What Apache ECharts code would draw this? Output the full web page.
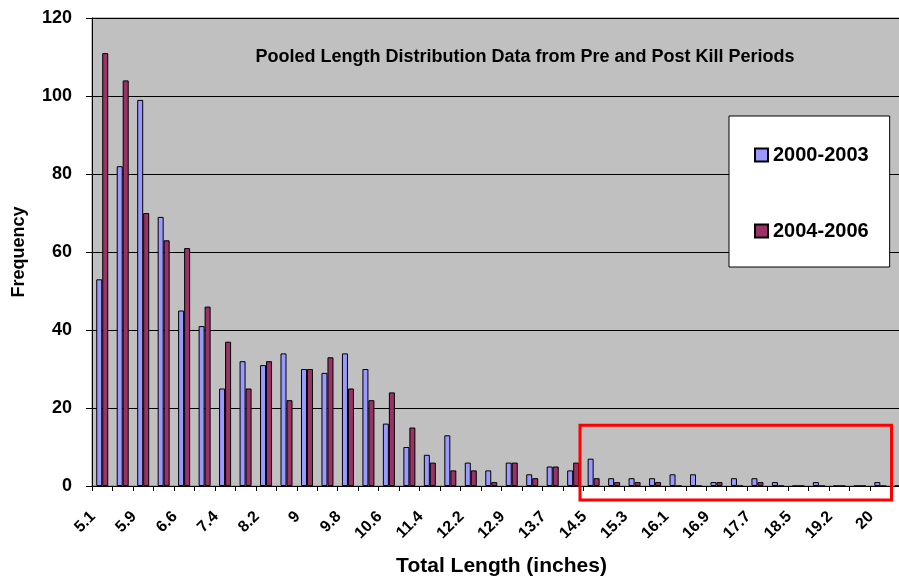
<!DOCTYPE html>
<html>
<head>
<meta charset="utf-8">
<script src="https://cdn.jsdelivr.net/npm/echarts@6/dist/echarts.min.js"></script>
<style>
  html, body { margin: 0; padding: 0; background: #fff; }
  #chart { width: 899px; height: 578px; }
</style>
</head>
<body>
<div id="chart"></div>
<script>
// Length classes (inches), one per centimetre bin from 13 to 52 cm
const lengthClasses = [
  '5.1', '5.5', '5.9', '6.2', '6.6', '7', '7.4', '7.8', '8.2', '8.6',
  '9', '9.4', '9.8', '10.2', '10.6', '11', '11.4', '11.8', '12.2', '12.5',
  '12.9', '13.3', '13.7', '14.1', '14.5', '14.9', '15.3', '15.7', '16.1', '16.5',
  '16.9', '17.3', '17.7', '18.1', '18.5', '18.8', '19.2', '19.6', '20', '20.4'
];

// Frequency of fish per length class, pre-kill period
const pre2000to2003 = [
  53, 82, 99, 69, 45, 41, 25, 32, 31, 34,
  30, 29, 34, 30, 16, 10, 8, 13, 6, 4,
  6, 3, 5, 4, 7, 2, 2, 2, 3, 3,
  1, 2, 2, 1, 0, 1, 0, 0, 1, 0
];

// Frequency of fish per length class, post-kill period
const post2004to2006 = [
  111, 104, 70, 63, 61, 46, 37, 25, 32, 22,
  30, 33, 25, 22, 24, 15, 6, 4, 4, 1,
  6, 2, 5, 6, 2, 1, 1, 1, 0, 0,
  1, 0, 1, 0, 0, 0, 0, 0, 0, 0
];

const yTicks = { min: 0, max: 120, step: 20 };

const FONT = 'Liberation Sans, Arial, sans-serif';

const chart = echarts.init(document.getElementById('chart'), null, { renderer: 'canvas' });

chart.setOption({
  animation: false,
  backgroundColor: '#ffffff',
  textStyle: { fontFamily: FONT },
  title: {
    text: 'Pooled Length Distribution Data from Pre and Post Kill Periods',
    left: 525,
    top: 48,
    textAlign: 'center',
    padding: 0,
    textStyle: { fontFamily: FONT, fontSize: 18, fontWeight: 'bold', color: '#000' }
  },
  legend: {
    orient: 'vertical',
    left: 729,
    top: 116,
    padding: [29, 21, 26, 25],
    itemGap: 56,
    itemWidth: 13,
    itemHeight: 13,
    icon: 'rect',
    backgroundColor: '#ffffff',
    borderColor: '#000000',
    borderWidth: 1,
    textStyle: { fontFamily: FONT, fontSize: 20, fontWeight: 'bold', color: '#000' },
    data: ['2000-2003', '2004-2006']
  },
  // the plot runs past the right edge of the canvas
  grid: {
    left: 92,
    top: 18,
    width: 819,
    bottom: 92,
    containLabel: false,
    outerBoundsMode: 'none',
    show: true,
    backgroundColor: '#C0C0C0',
    borderColor: '#808080',
    borderWidth: 1
  },
  xAxis: {
    type: 'category',
    data: lengthClasses,
    name: 'Total Length (inches)',
    nameLocation: 'middle',
    nameGap: 70,
    nameTextStyle: { fontFamily: FONT, fontSize: 21, fontWeight: 'bold', color: '#000' },
    axisLine: { show: true, lineStyle: { color: '#000', width: 1 } },
    axisTick: { show: true, interval: 0, length: 5, lineStyle: { color: '#000' } },
    axisLabel: {
      interval: 1,
      rotate: 45,
      margin: 19,
      padding: [0, 13, 0, 0],
      fontFamily: FONT,
      fontSize: 16,
      fontWeight: 'bold',
      color: '#000'
    },
    splitLine: { show: false }
  },
  yAxis: {
    type: 'value',
    min: yTicks.min,
    max: yTicks.max,
    interval: yTicks.step,
    name: 'Frequency',
    nameLocation: 'middle',
    nameGap: 64,
    nameTextStyle: { fontFamily: FONT, fontSize: 18, fontWeight: 'bold', color: '#000' },
    axisLine: { show: true, lineStyle: { color: '#000', width: 1 } },
    axisTick: { show: true, length: 6, lineStyle: { color: '#000' } },
    axisLabel: {
      margin: 20,
      fontFamily: FONT,
      fontSize: 18,
      fontWeight: 'bold',
      color: '#000'
    },
    splitLine: { show: true, lineStyle: { color: '#000', width: 1 } }
  },
  series: [
    {
      name: '2000-2003',
      type: 'bar',
      data: pre2000to2003,
      barWidth: 6,
      barGap: '0%',
      itemStyle: { color: '#9999FF', borderColor: '#000', borderWidth: 1 }
    },
    {
      name: '2004-2006',
      type: 'bar',
      data: post2004to2006,
      barWidth: 6,
      barGap: '0%',
      itemStyle: { color: '#993366', borderColor: '#000', borderWidth: 1 }
    }
  ],
  graphic: [
    {
      type: 'rect',
      z: 100,
      shape: { x: 580, y: 425.3, width: 311.5, height: 74.7 },
      style: { fill: 'none', stroke: '#FF0000', lineWidth: 3 }
    }
  ]
});
</script>
</body>
</html>
